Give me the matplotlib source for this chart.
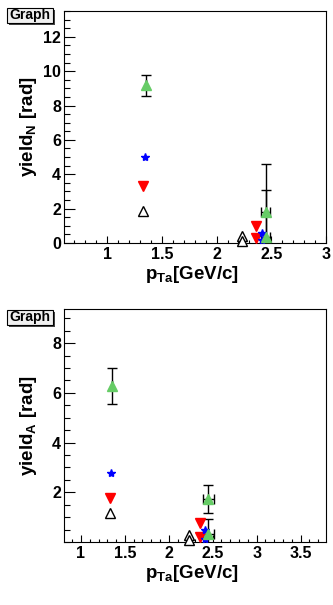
import matplotlib
matplotlib.use('Agg')
import matplotlib.pyplot as plt
from matplotlib.ticker import MultipleLocator, FixedLocator
from matplotlib.patches import Rectangle

plt.rcParams['font.family'] = ['Liberation Sans', 'DejaVu Sans']
plt.rcParams['font.weight'] = 'bold'
plt.rcParams['mathtext.fontset'] = 'custom'
plt.rcParams['mathtext.rm'] = 'Liberation Sans:bold'
plt.rcParams['mathtext.bf'] = 'Liberation Sans:bold'
plt.rcParams['mathtext.it'] = 'Liberation Sans:bold'

# ---- data ----
x_open = [1.329, 2.228, 2.228]
x_red = [1.332, 2.356, 2.356]
x_blue = [1.342, 2.412, 2.412]
x_green = [1.354, 2.450, 2.450]

# near-side yields (top)
yN_open = [1.85, 0.39, 0.12]
yN_red = [3.30, 1.01, 0.29]
yN_blue = [5.01, 0.58, 0.16]
yN_green = [9.18, 1.81, 0.35]
yN_green_err = [0.62, 2.76, 2.76]
xN_green_err = [0.0, 0.042, 0.042]

# away-side yields (bottom)
yA_open = [1.15, 0.28, 0.08]
yA_red = [1.76, 0.78, 0.19]
yA_blue = [2.79, 0.48, 0.11]
yA_green = [6.28, 1.73, 0.31]
yA_green_err = [0.73, 0.55, 0.60]
xA_green_err = [0.0, 0.06, 0.06]

W, H = 333, 605
fig = plt.figure(figsize=(W / 100, H / 100), dpi=100)

def px_rect(l, t, r, b):
    return [l / W, 1 - b / H, (r - l) / W, (b - t) / H]

ax1 = fig.add_axes(px_rect(64, 11, 326, 243))
ax2 = fig.add_axes(px_rect(64, 309, 326, 542))

GREEN = '#66cc66'

def draw(ax, yo, yr, yb, yg, yge, xge, xlim, ylim, ymajor, ylabel):
    ax.errorbar(x_green, yg, yerr=yge, xerr=xge, fmt='none', ecolor='black',
                elinewidth=1.0, capsize=3.5, capthick=1.0, zorder=2)
    ax.plot(x_open, yo, linestyle='none', marker='^', ms=6.5, mfc='white',
            mec='black', mew=1.0, clip_on=False, zorder=3)
    ax.plot(x_red, yr, linestyle='none', marker='v', ms=7, mfc='red',
            mec='red', clip_on=False, zorder=4)
    ax.plot(x_blue, yb, linestyle='none', marker='*', ms=6, mfc='blue',
            mec='blue', clip_on=False, zorder=5)
    ax.plot(x_green, yg, linestyle='none', marker='^', ms=6.5, mfc=GREEN,
            mec=GREEN, clip_on=False, zorder=6)
    ax.set_xlim(*xlim)
    ax.set_ylim(*ylim)
    ax.xaxis.set_major_locator(MultipleLocator(0.5))
    ax.xaxis.set_minor_locator(MultipleLocator(0.1))
    ax.yaxis.set_major_locator(FixedLocator(ymajor))
    ax.yaxis.set_minor_locator(MultipleLocator(0.5))
    ax.tick_params(axis='both', which='both', direction='in', top=False, right=False,
                   labelsize=11.5, width=0.8)
    ax.tick_params(axis='x', which='major', length=5.3, pad=3)
    ax.tick_params(axis='x', which='minor', length=2.5)
    ax.tick_params(axis='y', which='major', length=8, pad=2)
    ax.tick_params(axis='y', which='minor', length=4)
    ax.set_xticklabels([('%g' % v) for v in ax.get_xticks()])
    for lab in ax.get_xticklabels() + ax.get_yticklabels():
        lab.set_fontweight('bold')
    for s in ax.spines.values():
        s.set_linewidth(0.8)
    ax.text(0.49, -0.155, r'p$_{\mathrm{Ta}}$[GeV/c]', transform=ax.transAxes,
            ha='center', va='baseline', fontsize=13.5, fontweight='bold')
    ax.text(-0.135, 0.5, ylabel, transform=ax.transAxes, rotation=90,
            ha='center', va='center', fontsize=13.5, fontweight='bold')

draw(ax1, yN_open, yN_red, yN_blue, yN_green, yN_green_err, xN_green_err,
     (0.606, 3.0), (0, 13.5), [0, 2, 4, 6, 8, 10, 12],
     r'yield$_{\mathrm{N}}$ [rad]')
draw(ax2, yA_open, yA_red, yA_blue, yA_green, yA_green_err, xA_green_err,
     (0.807, 3.79), (0, 9.37), [2, 4, 6, 8],
     r'yield$_{\mathrm{A}}$ [rad]')

def graph_box(l, t, r, b):
    fig.patches.append(Rectangle((l / W + 2 / W, 1 - b / H - 2 / H), (r - l) / W, (b - t) / H,
                                 transform=fig.transFigure, facecolor='#444444',
                                 edgecolor='none', zorder=1))
    fig.patches.append(Rectangle((l / W, 1 - b / H), (r - l) / W, (b - t) / H,
                                 transform=fig.transFigure, facecolor='#f0f0f0',
                                 edgecolor='black', linewidth=0.8, zorder=2))
    fig.text((l + r) / 2 / W, 1 - (t + b) / 2 / H, 'Graph', ha='center', va='center',
             fontsize=10, fontweight='bold', zorder=3)

graph_box(7, 8, 53, 23)
graph_box(7, 310, 53, 325)

fig.savefig('out.png', dpi=100)
